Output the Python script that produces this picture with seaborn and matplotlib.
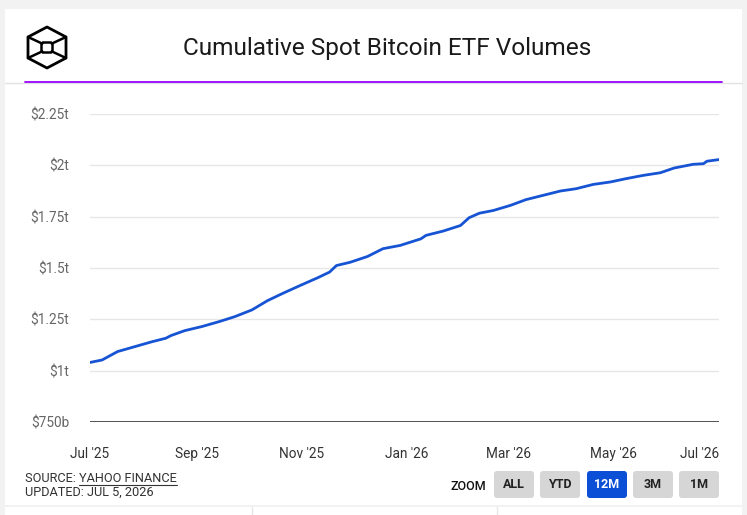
import matplotlib
matplotlib.use("Agg")
import matplotlib.pyplot as plt
from matplotlib.patches import Rectangle, FancyBboxPatch, Polygon
import seaborn as sns
import pandas as pd

# cumulative volume, trillions of USD
dates = ["2025-07-01", "2025-07-08", "2025-07-17", "2025-07-27", "2025-08-06",
         "2025-08-14", "2025-08-17", "2025-08-25", "2025-09-04", "2025-09-14",
         "2025-09-23", "2025-10-03", "2025-10-12", "2025-10-21", "2025-10-31",
         "2025-11-10", "2025-11-17", "2025-11-21", "2025-11-29", "2025-12-09",
         "2025-12-18", "2025-12-28", "2026-01-09", "2026-01-12", "2026-01-22",
         "2026-02-01", "2026-02-06", "2026-02-12", "2026-02-20", "2026-03-02",
         "2026-03-11", "2026-03-21", "2026-03-31", "2026-04-09", "2026-04-19",
         "2026-04-29", "2026-05-08", "2026-05-18", "2026-05-28", "2026-06-05",
         "2026-06-16", "2026-06-22", "2026-06-24", "2026-07-01"]
volume = [1.040, 1.052, 1.093, 1.117, 1.141,
          1.158, 1.171, 1.195, 1.215, 1.239,
          1.263, 1.296, 1.341, 1.377, 1.415,
          1.452, 1.480, 1.512, 1.528, 1.556,
          1.594, 1.610, 1.642, 1.659, 1.680,
          1.707, 1.745, 1.767, 1.780, 1.805,
          1.833, 1.854, 1.875, 1.886, 1.907,
          1.919, 1.935, 1.951, 1.964, 1.987,
          2.005, 2.008, 2.020, 2.028]

y_ticks = [0.75, 1.0, 1.25, 1.5, 1.75, 2.0, 2.25]
y_labels = ["$750b", "$1t", "$1.25t", "$1.5t", "$1.75t", "$2t", "$2.25t"]
x_ticks = ["2025-07-01", "2025-09-01", "2025-11-01", "2026-01-01",
           "2026-03-01", "2026-05-01", "2026-07-01"]
x_labels = ["Jul '25", "Sep '25", "Nov '25", "Jan '26", "Mar '26", "May '26", "Jul '26"]
buttons = ["ALL", "YTD", "12M", "3M", "1M"]

df = pd.DataFrame({"date": pd.to_datetime(dates), "volume": volume})

sns.set_style("white")
plt.rcParams["font.family"] = ["Roboto", "DejaVu Sans"]

W, H = 747, 515
fig = plt.figure(figsize=(W / 100, H / 100), dpi=100, facecolor="#f2f2f2")

# background layer in pixel coordinates
bg = fig.add_axes([0, 0, 1, 1], zorder=0)
bg.set_xlim(0, W)
bg.set_ylim(H, 0)
bg.axis("off")
bg.add_patch(Rectangle((5, 9), 737, 496, facecolor="white", edgecolor="none"))
bg.add_patch(Rectangle((5, 507), 737, 10, facecolor="white", edgecolor="none"))
for sx in [252, 497]:
    bg.plot([sx, sx], [507, 515], color="#e6e6e6", lw=1)
bg.plot([5, 742], [83, 83], color="#e3e3e3", lw=1)
bg.plot([25, 722], [82, 82], color="#9900ff", lw=1.3)

# logo
hexa = [(47, 27), (66, 37), (66, 58), (47, 68), (28, 58), (28, 37)]
bg.add_patch(Polygon(hexa, closed=True, fill=False, edgecolor="black", lw=2.0, joinstyle="round"))
inner = [(43, 42.5), (51, 42.5), (52.5, 44.5), (52.5, 50.5), (51, 52.5), (43, 52.5),
         (41.5, 50.5), (41.5, 44.5)]
bg.add_patch(Polygon(inner, closed=True, fill=False, edgecolor="black", lw=1.8))
for (ox, oy), (ix, iy) in zip([(28, 37), (66, 37), (28, 58), (66, 58)],
                              [(42, 43.5), (52, 43.5), (42, 51.5), (52, 51.5)]):
    bg.plot([ox, ix], [oy, iy], color="black", lw=1.8, solid_capstyle="round")

bg.text(387, 48, "Cumulative Spot Bitcoin ETF Volumes", ha="center", va="center",
        fontsize=17.6, color="#1a1a1a")

# footer
src = bg.text(25, 478, "SOURCE: ", ha="left", va="center", fontsize=9.2, color="#333333")
bg.text(25, 492, "UPDATED: JUL 5, 2026", ha="left", va="center", fontsize=9.2, color="#333333")
fig.canvas.draw()
inv = bg.transData.inverted()
bb = src.get_window_extent()
x1 = inv.transform((bb.x1, bb.y0))[0]
yf = bg.text(x1, 478, "YAHOO FINANCE", ha="left", va="center", fontsize=9.2, color="#333333")
fig.canvas.draw()
bb2 = yf.get_window_extent()
x2 = inv.transform((bb2.x1, bb2.y0))[0]
bg.plot([x1, x2], [485, 485], color="#333333", lw=0.8)

bg.text(468, 486, "ZOOM", ha="center", va="center", fontsize=9, fontweight="medium",
        color="#111111")
bx = [494, 540, 587, 633, 679]
for b, x0 in zip(buttons, bx):
    active = b == "12M"
    bg.add_patch(FancyBboxPatch((x0 + 2, 473), 36, 23,
                                boxstyle="round,pad=2,rounding_size=3",
                                facecolor="#0a4fd6" if active else "#d6d6d6",
                                edgecolor="none"))
    bg.text(x0 + 20, 485, b, ha="center", va="center", fontsize=9, fontweight="bold",
            color="white" if active else "#222222")

# main chart
ax = fig.add_axes([90 / W, 93 / H, 629 / W, 308 / H], zorder=1)
ax.patch.set_alpha(0)
sns.lineplot(data=df, x="date", y="volume", ax=ax, color="#1654d4", linewidth=2.0)

ax.set_xlim(df["date"].min(), df["date"].max())
ax.set_ylim(0.75, 2.25)
ax.set_yticks(y_ticks)
ax.set_yticklabels(y_labels)
ax.set_xticks(pd.to_datetime(x_ticks))
ax.set_xticklabels(x_labels)
ax.xaxis.get_majorticklabels()[-1].set_horizontalalignment("right")

for v in y_ticks[1:]:
    ax.axhline(v, color="#e6e6e6", lw=1, zorder=0)
ax.axhline(0.75, color="#333333", lw=1.2, zorder=2)

ax.tick_params(axis="y", length=0, pad=15, labelsize=9.8, labelcolor="#666666")
ax.tick_params(axis="x", length=0, pad=18, labelsize=9.8, labelcolor="#333333")
ax.set_xlabel("")
ax.set_ylabel("")
for s in ax.spines.values():
    s.set_visible(False)

fig.savefig("out.png", dpi=100, facecolor=fig.get_facecolor())
